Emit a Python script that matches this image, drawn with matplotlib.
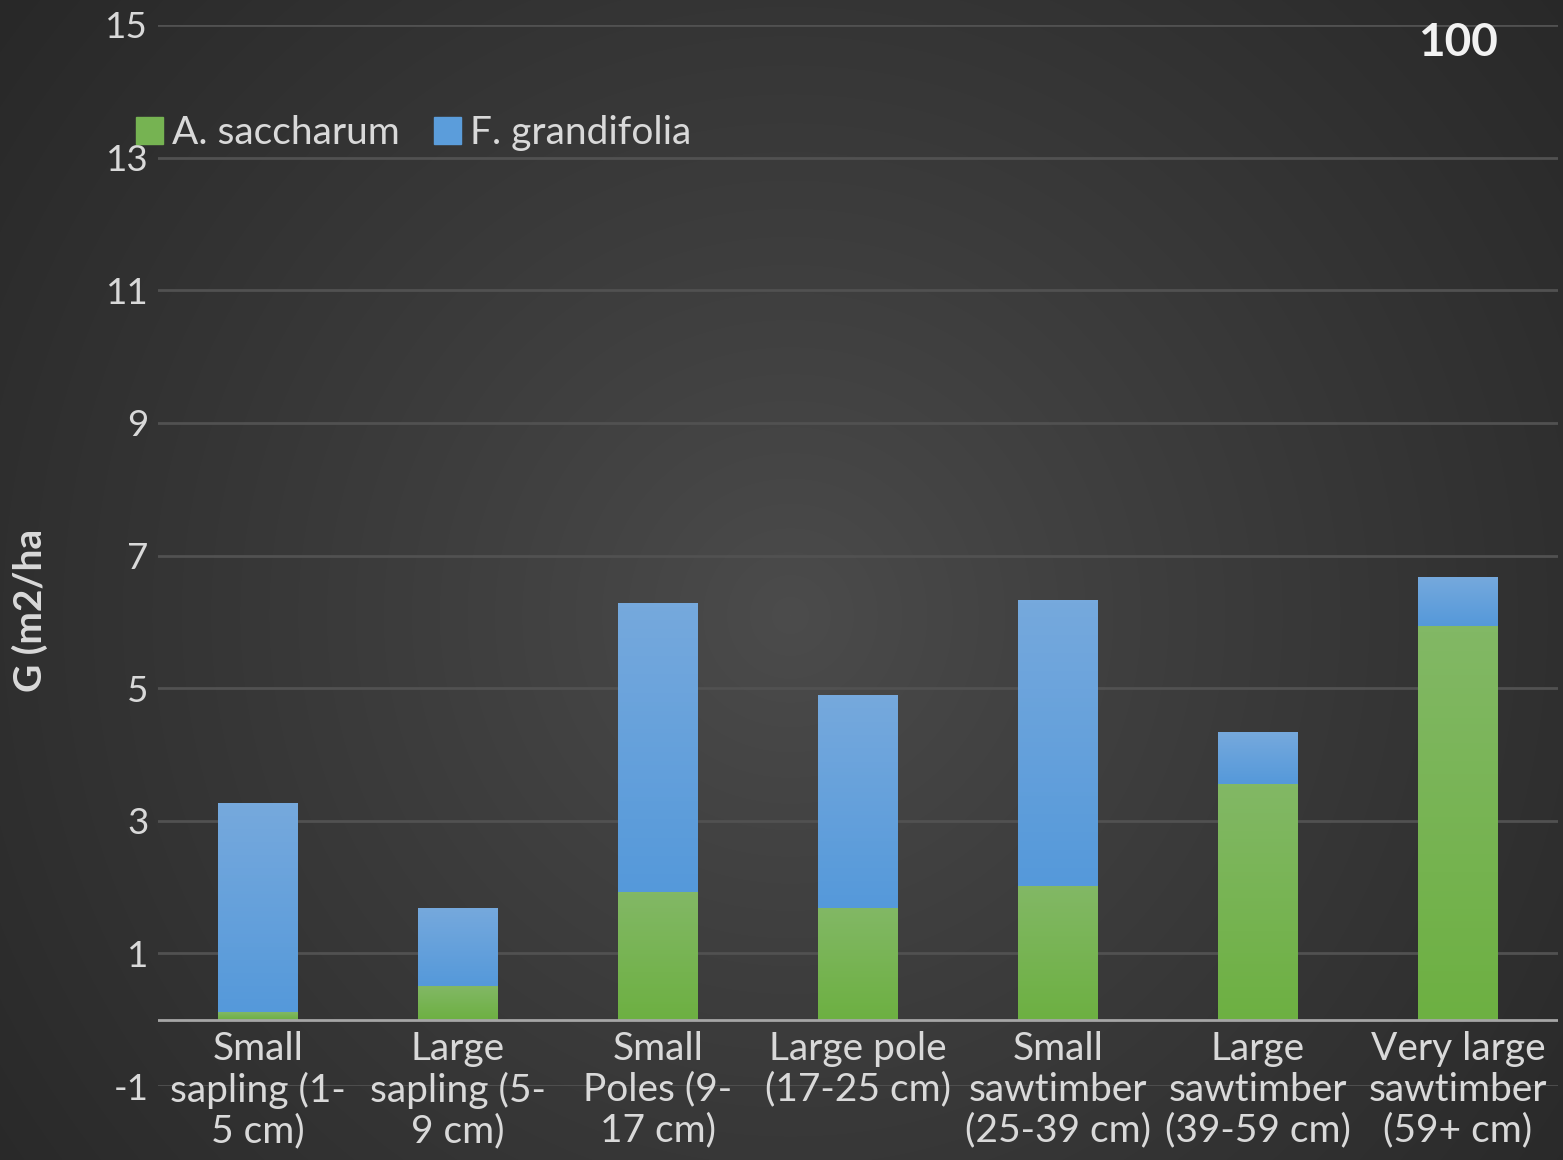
import numpy as np
import matplotlib.pyplot as plt
from matplotlib.patches import Patch

plt.rcParams['font.family'] = ['Lato', 'DejaVu Sans']
plt.rcParams['axes.unicode_minus'] = False

# basal area per size class
categories = ['Small\nsapling (1-\n5 cm)', 'Large\nsapling (5-\n9 cm)',
              'Small\nPoles (9-\n17 cm)', 'Large pole\n(17-25 cm)',
              'Small\nsawtimber\n(25-39 cm)', 'Large\nsawtimber\n(39-59 cm)',
              'Very large\nsawtimber\n(59+ cm)']
saccharum = [0.12, 0.51, 1.92, 1.69, 2.01, 3.56, 5.94]
grandifolia = [3.15, 1.18, 4.37, 3.20, 4.32, 0.78, 0.74]
yticks = [-1, 1, 3, 5, 7, 9, 11, 13, 15]

txt = '#d9d9d9'
green_top, green_bot = np.array([0x82, 0xb8, 0x65]), np.array([0x6d, 0xb0, 0x42])
blue_top, blue_bot = np.array([0x76, 0xa9, 0xdd]), np.array([0x55, 0x99, 0xda])

fig = plt.figure(figsize=(15.63, 11.6), dpi=100)

# radial background
bg = fig.add_axes([0, 0, 1, 1], zorder=-10)
h, w = 1160, 1563
yy, xx = np.mgrid[0:h, 0:w]
r = np.hypot(xx - 790, yy - 615) / np.hypot(790, 615)
r = np.clip(r, 0, 1)
c_in, c_out = 76, 40
shade = (c_in + (c_out - c_in) * r ** 0.9) / 255
bg.imshow(np.dstack([shade, shade, shade]), aspect='auto', extent=[0, 1, 0, 1])
bg.axis('off')

ax = fig.add_axes([158 / w, 1 - 1086 / h, 1400 / w, 1061 / h])
ax.set_facecolor('none')
x = np.arange(len(categories))
width = 0.4


def gradient_bars(bars, top, bot):
    grad = np.linspace(0, 1, 64)[:, None]
    img = (top[None, :] * (1 - grad) + bot[None, :] * grad) / 255
    img = img[:, None, :]
    for b in bars:
        x0, y0 = b.get_x(), b.get_y()
        bw, bh = b.get_width(), b.get_height()
        im = ax.imshow(img, extent=[x0, x0 + bw, y0, y0 + bh], aspect='auto',
                       origin='upper', zorder=3)
        im.set_clip_path(b)


b1 = ax.bar(x, saccharum, width, color='none', edgecolor='none', zorder=3)
b2 = ax.bar(x, grandifolia, width, bottom=saccharum, color='none',
            edgecolor='none', zorder=3)
gradient_bars(b1, green_top, green_bot)
gradient_bars(b2, blue_top, blue_bot)

ax.set_xlim(-0.5, len(categories) - 0.5)
ax.set_ylim(-1, 15)
ax.set_yticks(yticks)
ax.set_xticks([])
ax.tick_params(axis='y', length=0, pad=7, labelsize=26.5, labelcolor=txt)
ax.grid(axis='y', color='#515151', linewidth=2, zorder=0)
ax.axhline(0, color='#a6a6a6', linewidth=2, zorder=4)
for s in ax.spines.values():
    s.set_visible(False)

for i, lab in enumerate(categories):
    ax.text(i, -0.17, lab, ha='center', va='top', fontsize=28, color=txt,
            linespacing=1.16, clip_on=False)

fig.text(30 / w, 1 - 610 / h, 'G (m2/ha', rotation=90, ha='center',
         va='center', fontsize=28, fontweight='bold', color=txt)
fig.text(1458 / w, 1 - 43 / h, '100', ha='center', va='center',
         fontsize=33, fontweight='bold', color='#f2f2f2')

handles = [Patch(color='#76b352', label='A. saccharum'),
           Patch(color='#5b9ddb', label='F. grandifolia')]
fig.legend(handles=handles, loc='center left', bbox_to_anchor=(136 / w, 1 - 133 / h),
           ncol=2, frameon=False, fontsize=28, labelcolor=txt,
           handlelength=0.7, handleheight=0.7, handletextpad=0.23,
           columnspacing=0.87, borderaxespad=0, borderpad=0)

fig.savefig('out.png', dpi=100)
